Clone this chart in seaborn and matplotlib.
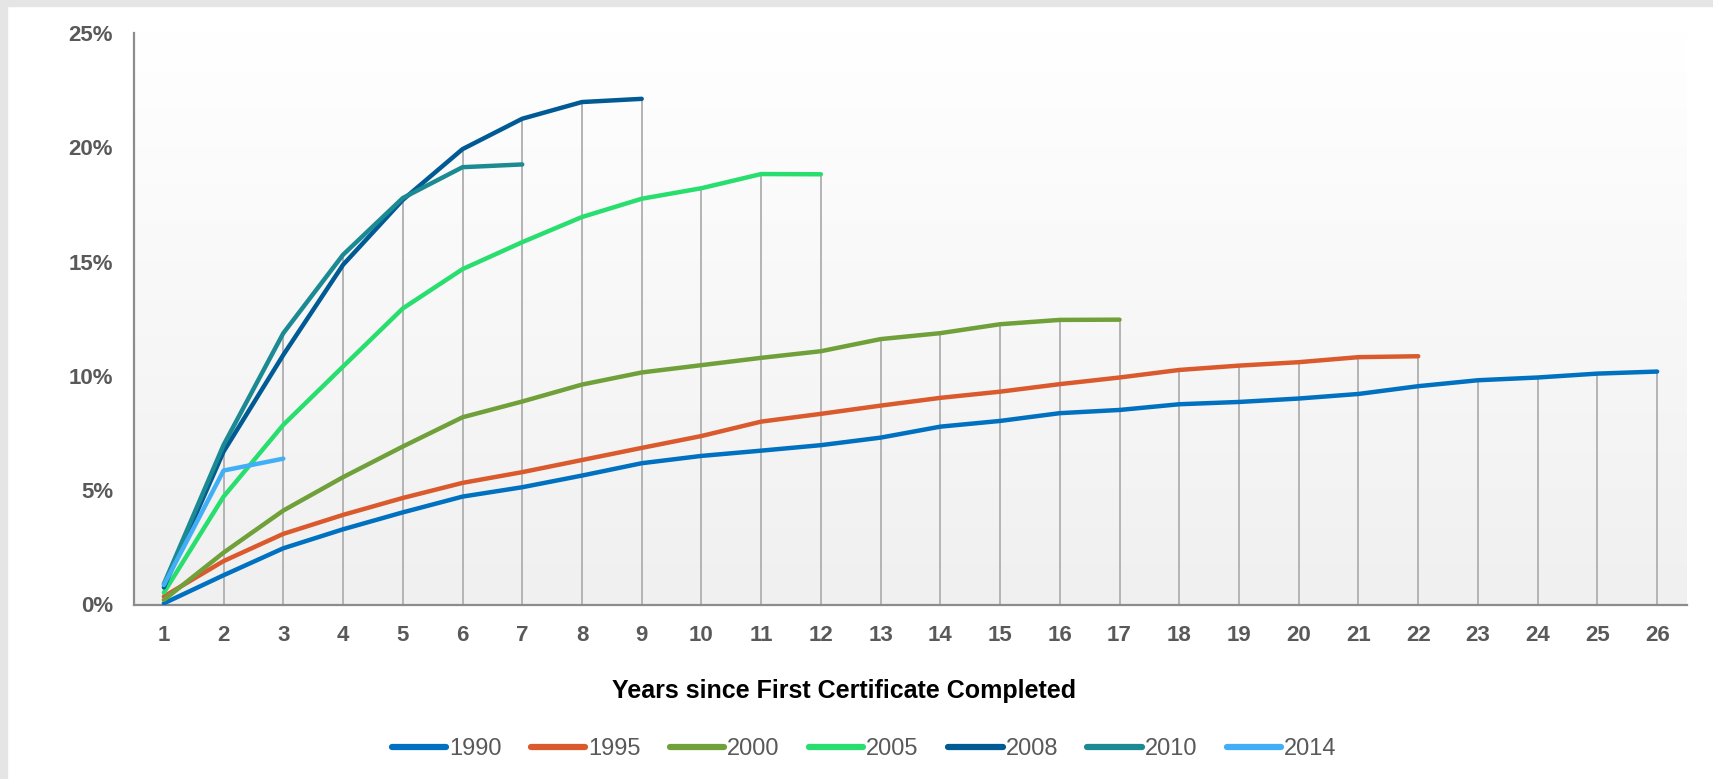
import numpy as np
import pandas as pd
import matplotlib
matplotlib.use('Agg')
import matplotlib.pyplot as plt
import seaborn as sns
from matplotlib.colors import LinearSegmentedColormap
from matplotlib.patches import Rectangle
from matplotlib.lines import Line2D

# cumulative share (%) by years since first certificate, per cohort
years_since = list(range(1, 27))
cohorts = ['1990', '1995', '2000', '2005', '2008', '2010', '2014']
rate_1990 = [0.05, 1.28, 2.46, 3.29, 4.03, 4.72, 5.13, 5.64, 6.18, 6.50, 6.73, 6.97, 7.30,
             7.78, 8.03, 8.37, 8.51, 8.76, 8.86, 9.01, 9.21, 9.55, 9.81, 9.93, 10.10, 10.19]
rate_1995 = [0.35, 1.90, 3.09, 3.92, 4.66, 5.32, 5.79, 6.32, 6.85, 7.37, 8.00, 8.34, 8.70,
             9.04, 9.31, 9.64, 9.93, 10.26, 10.45, 10.60, 10.82, 10.86]
rate_2000 = [0.20, 2.27, 4.11, 5.57, 6.91, 8.19, 8.88, 9.62, 10.15, 10.47, 10.79, 11.08,
             11.61, 11.87, 12.26, 12.45, 12.46]
rate_2005 = [0.52, 4.72, 7.86, 10.41, 12.95, 14.67, 15.85, 16.95, 17.75, 18.21, 18.83, 18.82]
rate_2008 = [0.75, 6.69, 10.92, 14.86, 17.70, 19.92, 21.25, 21.98, 22.12]
rate_2010 = [0.90, 6.98, 11.87, 15.30, 17.78, 19.13, 19.25]
rate_2014 = [0.85, 5.86, 6.38]
y_ticks = [0, 5, 10, 15, 20, 25]

colors = ['#0070C0', '#DA5A2D', '#70A03A', '#28DE6E', '#005A94', '#1C8A93', '#42AEF5']
series = [rate_1990, rate_1995, rate_2000, rate_2005, rate_2008, rate_2010, rate_2014]

rows = []
for c, vals in zip(cohorts, series):
    for x, v in zip(years_since, vals):
        rows.append({'years': x, 'cohort': c, 'pct': v})
df = pd.DataFrame(rows)

sns.set_style('white')
font = 'Liberation Sans'

fig = plt.figure(figsize=(17.13, 7.79), dpi=100)
# grey frame strips at top and left
fig.patches.append(Rectangle((0, 1 - 6 / 779), 1, 6 / 779, transform=fig.transFigure,
                             color='#e5e5e5', zorder=0))
fig.patches.append(Rectangle((0, 0), 7 / 1713, 1, transform=fig.transFigure,
                             color='#e5e5e5', zorder=0))

ax = fig.add_axes([134 / 1713, 174.5 / 779, 1553 / 1713, 571.5 / 779])
ax.set_xlim(0.5, 26.5)
ax.set_ylim(0, 25)

# gradient plot area
grad = LinearSegmentedColormap.from_list('g', ['#ffffff', '#f0f0f0'])
ax.imshow(np.linspace(0, 1, 256).reshape(-1, 1), extent=[0.5, 26.5, 0, 25],
          aspect='auto', cmap=grad, zorder=0)

# drop lines from the axis to the highest point at each year
tops = df.groupby('years')['pct'].max()
ax.vlines(tops.index, 0, tops.values, color='#b4b4b4', lw=1.4, zorder=1)

sns.lineplot(data=df, x='years', y='pct', hue='cohort', hue_order=cohorts,
             palette=dict(zip(cohorts, colors)), lw=3.2, ax=ax, legend=False,
             zorder=3, solid_capstyle='round')

for s in ['top', 'right']:
    ax.spines[s].set_visible(False)
for s in ['left', 'bottom']:
    ax.spines[s].set_color('#8c8c8c')
    ax.spines[s].set_linewidth(1.6)

ax.set_xticks(years_since)
ax.set_yticks(y_ticks)
ax.set_yticklabels([f'{t}%' for t in y_ticks])
ax.tick_params(length=0, pad=15, labelcolor='#595959', labelsize=16)
for lab in ax.get_xticklabels() + ax.get_yticklabels():
    lab.set_fontfamily(font)
    lab.set_fontweight('bold')

ax.set_ylabel('')
ax.set_xlabel('Years since First Certificate Completed', fontsize=18, fontweight='bold',
              color='black', family=font)
ax.xaxis.set_label_coords((844 - 134) / 1553, (604.5 - 691) / 571.5)
ax.xaxis.label.set_va('center')

handles = [Line2D([], [], color=c, lw=4.5) for c in colors]
fig.legend(handles, cohorts, loc='center', bbox_to_anchor=(864 / 1713, 1 - 749 / 779),
           ncol=7, frameon=False, handlelength=2.3, handletextpad=0.12, columnspacing=1.25,
           prop={'family': font, 'size': 17}, labelcolor='#595959')

fig.savefig('out.png', dpi=100)
